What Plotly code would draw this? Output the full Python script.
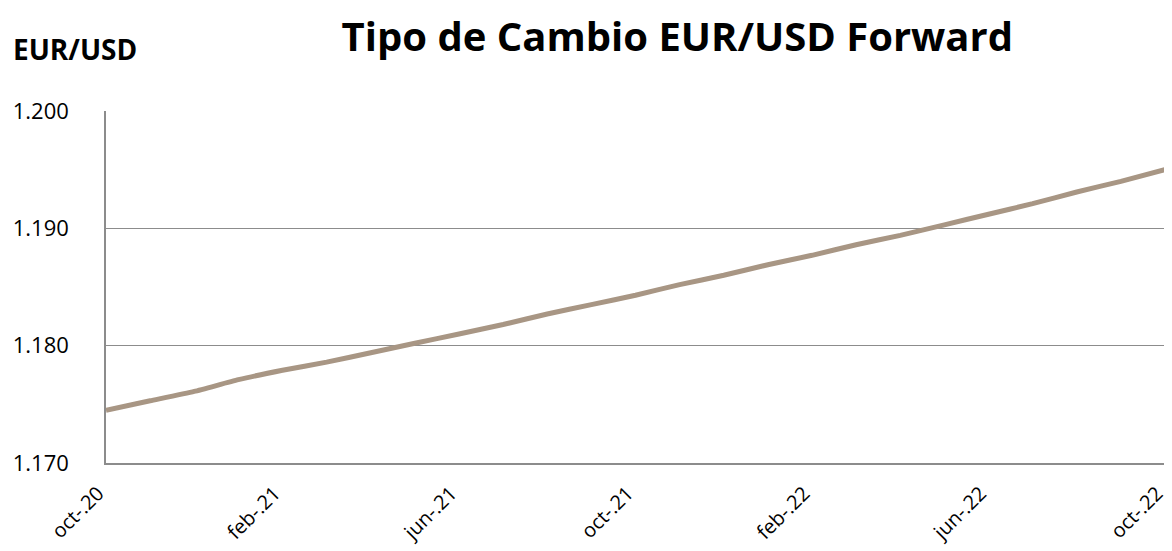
import plotly.graph_objects as go

months = ["oct-20","nov-20","dic-20","ene-21","feb-21","mar-21",
          "abr-21","may-21","jun-21","jul-21","ago-21","sep-21",
          "oct-21","nov-21","dic-21","ene-22","feb-22","mar-22",
          "abr-22","may-22","jun-22","jul-22","ago-22","sep-22",
          "oct-22"]
forward = [1.1745, 1.1753, 1.1761, 1.1771, 1.1779, 1.1786,
           1.1794, 1.1802, 1.1810, 1.1818, 1.1827, 1.1835,
           1.1843, 1.1852, 1.1860, 1.1869, 1.1877, 1.1886,
           1.1894, 1.1903, 1.1912, 1.1921, 1.1931, 1.1940,
           1.1950]
tick_months = ["oct-20","feb-21","jun-21","oct-21","feb-22","jun-22","oct-22"]
tick_labels = ["oct-.20","feb-.21","jun-.21","oct-.21","feb-.22","jun-.22","oct-.22"]
y_ticks = [1.170, 1.180, 1.190, 1.200]
y_labels = ["1.170", "1.180", "1.190", "1.200"]

x_pos = list(range(len(months)))
tick_pos = [months.index(m) for m in tick_months]

fig = go.Figure()
fig.add_trace(go.Scatter(x=x_pos, y=forward, mode="lines", text=months,
                         line=dict(color="#a89684", width=5, shape="spline", smoothing=0.5),
                         cliponaxis=False,
                         hovertemplate="%{text}: %{y:.4f}<extra></extra>"))

font_family = "Open Sans, Liberation Sans, sans-serif"
fig.update_layout(
    width=1164, height=543,
    margin=dict(l=98, r=7, t=103, b=88),
    paper_bgcolor="white", plot_bgcolor="white",
    showlegend=False,
    title=dict(text="<b>Tipo de Cambio EUR/USD Forward</b>", x=0.575, xanchor="center",
               y=0.947, yanchor="middle",
               font=dict(family=font_family, size=40, color="black")),
    annotations=[dict(text="<b>EUR/USD</b>", xref="paper", yref="paper",
                      x=-0.09, y=1.176, xanchor="left", yanchor="middle", showarrow=False,
                      font=dict(family=font_family, size=28, color="black"))],
    xaxis=dict(range=[0, len(months) - 1], automargin=False,
               tickvals=tick_pos, ticktext=tick_labels, tickangle=-45,
               showgrid=False, showline=True, linecolor="#8c8c8c", linewidth=1.5,
               ticks="", ticklabelstandoff=9, ticklabelshift=-8,
               tickfont=dict(family=font_family, size=20, color="black"),
               zeroline=False),
    yaxis=dict(range=[1.170, 1.200], tickvals=y_ticks, ticktext=y_labels, automargin=False,
               showgrid=True, gridcolor="#8c8c8c", gridwidth=1.3,
               showline=True, linecolor="#8c8c8c", linewidth=1.5,
               ticks="", ticklabelstandoff=31,
               tickfont=dict(family=font_family, size=22, color="black"),
               zeroline=False),
)
fig.write_html("out.html")
